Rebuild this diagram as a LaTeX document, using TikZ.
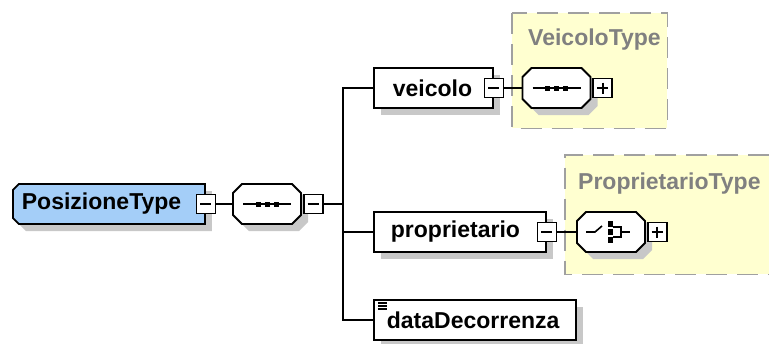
\documentclass[tikz,border=0pt]{standalone}
\usepackage{fontspec}
\setmainfont{Liberation Sans}
\usetikzlibrary{positioning}
\usetikzlibrary{shapes.misc}
\usetikzlibrary{shadows}

\definecolor{typeblue}{RGB}{164,206,248}
\definecolor{areayellow}{RGB}{255,255,208}
\definecolor{areagray}{RGB}{160,160,160}
\definecolor{titlegray}{RGB}{128,128,128}
\definecolor{shadegray}{RGB}{200,200,200}

\begin{document}
\begin{tikzpicture}
  [x=1pt, y=-1pt, font=\fontsize{23}{23}\selectfont\bfseries,
  shade/.style={drop shadow={shadow xshift=7pt, shadow yshift=-7pt, fill=shadegray, opacity=1}},
  elem/.style={rectangle,draw=black,fill=white,line width=1.8pt,shade,minimum height=40pt,inner ysep=0pt,align=left,anchor=west},
  octa/.style={chamfered rectangle,chamfered rectangle sep=4.5pt,draw=black,fill=white,line width=1.8pt,shade,inner xsep=29.5pt,inner ysep=15.5pt},
  signbox/.style={rectangle,draw=black,fill=white,line width=1.6pt,minimum size=19pt,inner sep=0pt},
  minusbox/.style={signbox,path picture={\draw[line width=1.6pt] ([xshift=4pt]path picture bounding box.west) -- ([xshift=-4pt]path picture bounding box.east);}},
  plusbox/.style={signbox,path picture={\draw[line width=1.6pt] ([xshift=4pt]path picture bounding box.west) -- ([xshift=-4pt]path picture bounding box.east) ([yshift=-4pt]path picture bounding box.north) -- ([yshift=4pt]path picture bounding box.south);}},
  icon/.style={line width=1.6pt},
  area/.style={rectangle,fill=areayellow,inner sep=0pt,anchor=north west},
  areaborder/.style={draw=areagray,line width=1.8pt,dash pattern=on 21pt off 10pt},
  areatitle/.style={text=titlegray,anchor=west,inner sep=0pt},
  conn/.style={draw=black,line width=1.8pt}]

  \useasboundingbox (0,0) rectangle (769,343);

  % type areas
  \node[area,minimum width=155pt,minimum height=115pt] (vtype) at (512,13) {};
  \draw [areaborder] (vtype.north west) rectangle (vtype.south east);
  \node[areatitle] (vtitle) at (528,40) {VeicoloType};

  \node[area,minimum width=204pt,minimum height=119pt] (ptype) at (565,155) {};
  \draw [areaborder] (ptype.north east) -- (ptype.north west) -- (ptype.south west) -- (ptype.south east);
  \node[areatitle] (ptitle) at (578,184) {ProprietarioType};

  % root
  \node[elem,chamfered rectangle,chamfered rectangle sep=3pt,chamfered rectangle corners={north west,south west},
    fill=typeblue,inner xsep=6pt,inner ysep=7pt,text width=174pt,text height=15pt,text depth=5pt,minimum height=0pt] (posizione) at (12,204) {PosizioneType};
  \node[minusbox] (posminus) at (posizione.east) {};

  \node[octa] (seq) at (267,204) {};
  \node[minusbox,anchor=west] (seqminus) at ([xshift=1pt]seq.east) {};
  \coordinate (fork) at (343,204);

  % children
  \node[elem,inner xsep=19pt,text width=81pt] (veicolo) at (373,88) {veicolo};
  \node[minusbox] (veicminus) at (veicolo.east) {};
  \node[octa] (vseq) at (556.5,88) {};
  \node[plusbox,anchor=west] (vplus) at ([xshift=1pt]vseq.east) {};

  \node[elem,inner xsep=17pt,text width=138pt] (proprietario) at (373,232) {proprietario};
  \node[minusbox] (propminus) at (proprietario.east) {};
  \node[octa] (choice) at (611,232) {};
  \node[plusbox,anchor=west] (cplus) at ([xshift=1pt]choice.east) {};

  \node[elem,inner xsep=13pt,text width=176pt,
    path picture={\foreach \dy in {3,6,9} \draw[line width=1.4pt] ([xshift=4pt,yshift=-\dy pt]path picture bounding box.north west) -- ++(9pt,0pt);}] (data) at (373,320) {dataDecorrenza};

  % sequence icons
  \foreach \s in {seq,vseq} {
    \draw [icon] ([xshift=-24pt]\s.center) -- ([xshift=24pt]\s.center);
    \foreach \dx in {-9,0,9} \fill ([xshift=\dx pt]\s.center) +(-2.5pt,-2.5pt) rectangle +(2.5pt,2.5pt);
  }

  % choice icon
  \draw [icon] ([xshift=-25pt]choice.center) -- ([xshift=-16pt]choice.center) -- ([xshift=-9pt,yshift=6pt]choice.center);
  \foreach \dy in {-8,0,8} \fill ([yshift=\dy pt]choice.center) +(-3pt,-3pt) rectangle +(2pt,3pt);
  \draw [icon] ([xshift=2pt,yshift=5pt]choice.center) -| ([xshift=10pt,yshift=-5pt]choice.center) -- ([xshift=2pt,yshift=-5pt]choice.center);
  \draw [icon] ([xshift=10pt]choice.center) -- ([xshift=19pt]choice.center);

  % connectors
  \draw [conn] (posminus.east) -- (seq.west);
  \draw [conn] (seqminus.east) -- (fork);
  \draw [conn] (fork) |- (veicolo.west);
  \draw [conn] (fork) |- (proprietario.west);
  \draw [conn] (fork) |- (data.west);
  \draw [conn] (veicminus.east) -- (vseq.west);
  \draw [conn] (propminus.east) -- (choice.west);

\end{tikzpicture}
\end{document}
